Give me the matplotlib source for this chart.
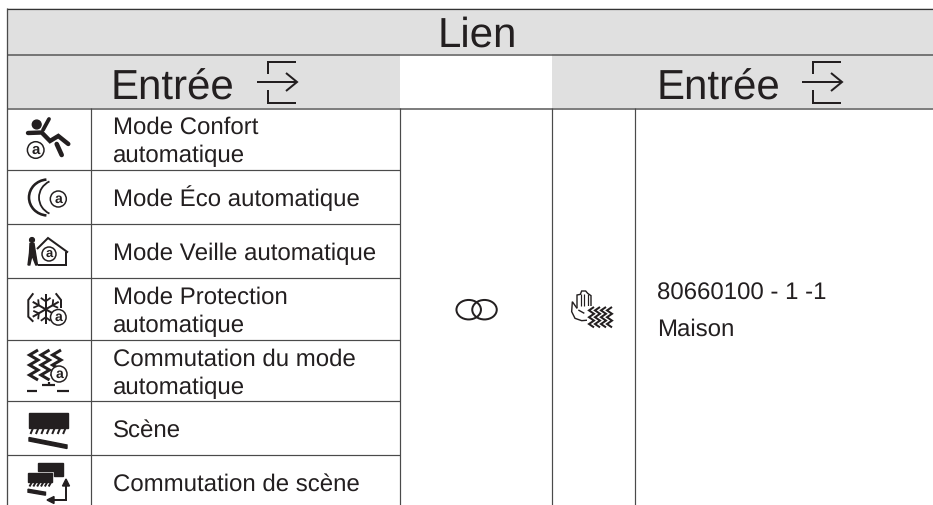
import numpy as np
import matplotlib
matplotlib.use("Agg")
import matplotlib.pyplot as plt
from matplotlib.patches import Rectangle, Circle, Arc, Polygon, Ellipse

title = "Lien"
header = "Entrée"
row_lines = [108.5, 170, 224, 278, 340, 401, 455]
labels = [["Mode Confort", "automatique"], ["Mode Éco automatique"], ["Mode Veille automatique"],
          ["Mode Protection", "automatique"], ["Commutation du mode", "automatique"], ["Scène"],
          ["Commutation de scène"]]
label_baselines = [[134, 162], [206], [260], [304, 332], [366, 394], [437], [491]]
right_lines = ["80660100 - 1 -1", "Maison"]
right_baselines = [300, 336]

INK = "#231f20"; GRID = "#4a4a4a"; GREY = "#e0e0e0"
plt.rcParams["font.family"] = ["Liberation Sans", "DejaVu Sans"]
plt.rcParams["text.hinting"] = "no_hinting"
plt.rcParams["text.hinting_factor"] = 1
fig = plt.figure(figsize=(9.33, 5.05), dpi=100)
ax = fig.add_axes([0, 0, 1, 1]); ax.set_xlim(0, 933); ax.set_ylim(505, 0); ax.axis("off")
P = 0.72

def L(xs, ys, lw=1.5, c=INK, z=3, cap="butt"):
    ax.plot(xs, ys, color=c, lw=lw * P, solid_capstyle=cap, solid_joinstyle="miter", zorder=z)

def badge(x, y, r=8):
    ax.add_patch(Circle((x, y), r, fc="white", ec=INK, lw=1.5 * P, zorder=5))
    ax.text(x, y + r * 0.42, "a", fontsize=r * 1.3, ha="center", va="baseline", color=INK, zorder=6, fontweight="bold")

def zigzags(x0, y0, cols, peaks, dx, w, step, lw):
    for c in range(cols):
        X = x0 + c * dx
        xs, ys = [X + w], [y0]
        for p in range(peaks):
            xs += [X, X + w]
            ys += [y0 + (2 * p + 1) * step, y0 + (2 * p + 2) * step]
        L(xs, ys, lw=lw)

def person_comfort():
    ax.add_patch(Circle((36.7, 124.5), 4.4, color=INK))
    L([28, 41.7, 50, 58.3, 68.3], [133, 132.5, 141, 136, 144], lw=4.4, cap="round")
    L([43, 49], [130, 119], lw=3.8, cap="round")
    L([56.7, 61.7], [144, 155], lw=4.6, cap="round")
    badge(35.7, 150, 8.3)

def moon():
    ax.add_patch(Arc((48, 197.5), 38, 36, theta1=95, theta2=265, color=INK, lw=2.6 * P))
    ax.add_patch(Arc((58, 197.5), 38, 36, theta1=118, theta2=242, color=INK, lw=1.8 * P))
    badge(58.3, 199, 8)

def person_house():
    ax.add_patch(Circle((32, 240), 2.4, color=INK))
    ax.add_patch(Polygon([[30, 243.5], [34, 243.5], [35.5, 253], [37.5, 265], [35.8, 265], [32, 255.5], [29.8, 265], [28, 265], [29.5, 253]], color=INK))
    L([37, 48, 68], [249, 238, 252.5], lw=2)
    L([66, 66, 38], [252, 265, 265], lw=2)
    badge(49, 254, 7)

def snow():
    cx, cy = 45.7, 309.3
    for a in (90, 30, 150):
        d = np.array([np.cos(np.radians(a)), np.sin(np.radians(a))]) * 15
        L([cx - d[0], cx + d[0]], [cy - d[1], cy + d[1]], lw=2)
    for a in range(0, 360, 60):
        u = np.radians(a + 30)
        tip = np.array([cx + 8 * np.cos(u), cy + 8 * np.sin(u)])
        for s in (-1, 1):
            v = u + s * 0.95
            L([tip[0], tip[0] + 6 * np.cos(v)], [tip[1], tip[1] + 6 * np.sin(v)], lw=1.8)
    L([33.3, 28.3, 28.3, 33.3], [293.3, 300, 316.7, 321.7], lw=2)
    L([55.7, 61, 61], [293.3, 300, 308], lw=2)
    badge(58.3, 317.3, 7.8)

def switch_mode():
    zigzags(29.5, 350, 3, 3, 11.5, 8.5, 5, 3)
    badge(59, 374, 8)
    L([27, 37], [390.7, 390.7], lw=2.2); L([41.7, 55], [385.3, 385.3], lw=2.2)
    L([48.5, 48.5], [381.5, 385.3], lw=2.2); L([57, 69], [390.7, 390.7], lw=2.2)

def scene(x, y, w, h, n, barw, hatch, drop, b0, b1):
    ax.add_patch(Rectangle((x, y), w, h, color=INK))
    for i in range(n):
        X = x + 1.5 + i * (w - 1) / n
        L([X, X + 2.5], [y + h + hatch, y + h], lw=2 if n > 5 else 1.5)
    by = y + h + drop
    ax.add_patch(Polygon([[x, by], [x + barw, by + b0], [x + barw, by + b0 + b1], [x, by + b1]], color=INK))

def scene_switch():
    ax.add_patch(Polygon([[38, 463], [63, 463], [63, 476], [53.5, 476], [53.5, 471], [38, 471]], color=INK))
    scene(28, 472.7, 24, 9.3, 6, 17.5, 4.5, 7.2, 3, 3)
    L([66, 66, 53], [485, 500, 500], lw=2)
    ax.add_patch(Polygon([[66, 479], [69.5, 486], [62.5, 486]], color=INK))
    ax.add_patch(Polygon([[47, 500], [54, 496.5], [54, 503.5]], color=INK))

def enter_icon(x, y):
    L([x + 39, x + 11, x + 11], [y - 20.5, y - 20.5, y - 8], lw=2)
    L([x + 11, x + 11, x + 39], [y + 8, y + 20.5, y + 20.5], lw=2)
    L([x, x + 39], [y, y], lw=2)
    L([x + 29, x + 40, x + 29], [y - 9, y, y + 9], lw=2)

def rings():
    for x in (468.7, 484.5):
        ax.add_patch(Ellipse((x, 309.7), 24.5, 19.5, fill=False, ec=INK, lw=2 * P))

def hand():
    def U(pts):
        a = np.array(pts, float)
        return 565 + a[:, 0] / 3, 285 + a[:, 1] / 3
    for pts in ([(36, 70), (22, 50), (20, 80), (30, 100), (50, 107), (75, 105)],
                [(36, 70), (36, 30), (46, 28), (50, 18), (62, 18), (68, 25), (78, 32), (78, 90)],
                [(40, 75), (58, 85)]):
        X, Y = U(pts)
        L(X, Y, lw=1.4)
    for u in (47, 58, 68):
        X, Y = U([(u, 28), (u, 62)])
        L(X, Y, lw=1.2)
    ax.add_patch(Rectangle((587, 306), 27, 22, fc="white", ec="none", zorder=3))
    zigzags(589, 307, 4, 3, 6, 5, 3.4, 2)
    for l in ax.lines[-4:]:
        l.set_zorder(4)

# backgrounds
ax.add_patch(Rectangle((7, 8), 926, 46, fc=GREY, ec="none"))
ax.add_patch(Rectangle((7, 54), 393, 54, fc=GREY, ec="none"))
ax.add_patch(Rectangle((552, 54), 381, 54, fc=GREY, ec="none"))

# grid
L([7, 933], [8.7, 8.7], lw=1.2, c="#333333")
L([7, 933], [54.5, 54.5], lw=1.5, c="#555555")
L([7, 933], [108.5, 108.5], lw=1.5, c="#555555")
L([7, 7], [8, 505], lw=1.3, c=GRID)
for x in (90.5, 400, 552, 635):
    L([x, x], [108, 505], lw=1.2, c=GRID)
for y in row_lines[1:]:
    L([7, 400], [y, y], lw=1.2, c=GRID)

# headers
ax.text(477.5, 47, title, fontsize=30, ha="center", va="baseline", color=INK)
ax.text(111, 100, header, fontsize=30, va="baseline", color=INK)
ax.text(657, 100, header, fontsize=30, va="baseline", color=INK)
enter_icon(257, 82)
enter_icon(802, 82)

# body
for lines, bases in zip(labels, label_baselines):
    for t, b in zip(lines, bases):
        ax.text(113, b, t, fontsize=17.2, va="baseline", color=INK)
for t, b in zip(right_lines, right_baselines):
    ax.text(657, b, t, fontsize=17.2, va="baseline", color=INK)

for f in (person_comfort, moon, person_house, snow, switch_mode, scene_switch, rings, hand):
    f()
scene(29, 412.7, 39, 15.3, 7, 38, 6, 9.5, 7.5, 3.5)
fig.savefig("out.png", dpi=100)
